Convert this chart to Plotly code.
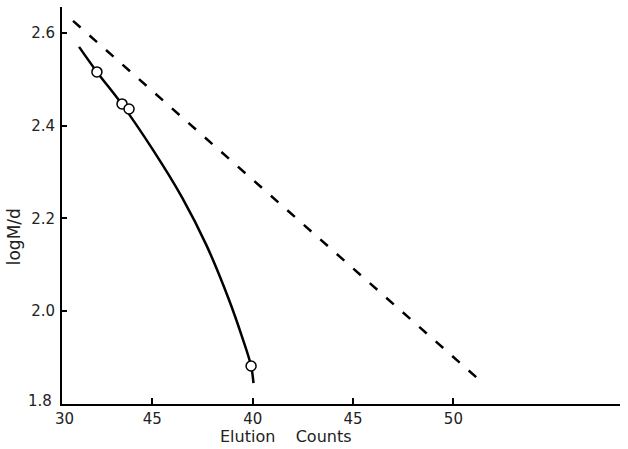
import plotly.graph_objects as go

# measured points (open circles)
point_x = [32.24, 33.49, 33.84, 39.92]
point_y = [2.516, 2.447, 2.436, 1.882]

# smooth fitted curve
curve_x = [31.35, 32.24, 33.49, 35.0, 36.5, 37.7, 38.8, 39.5, 39.92, 40.04]
curve_y = [2.570, 2.516, 2.446, 2.350, 2.244, 2.142, 2.027, 1.941, 1.882, 1.845]

# dashed reference line
dash_x = [31.05, 51.34]
dash_y = [2.626, 1.850]

x_tickvals = [35, 40, 45, 50]
x_ticktext = ["45", "40", "45", "50"]
y_tickvals = [1.8, 2.0, 2.2, 2.4, 2.6]
y_ticktext = ["", "2.0", "2.2", "2.4", "2.6"]

FONT = "DejaVu Sans"

fig = go.Figure()
fig.add_trace(go.Scatter(x=dash_x, y=dash_y, mode="lines",
                         line=dict(color="black", width=2.5, dash="10px,12px"),
                         showlegend=False))
fig.add_trace(go.Scatter(x=curve_x, y=curve_y, mode="lines",
                         line=dict(color="black", width=2.5, shape="spline", smoothing=1.0),
                         showlegend=False))
fig.add_trace(go.Scatter(x=point_x, y=point_y, mode="markers",
                         marker=dict(symbol="circle", size=10, color="white",
                                     line=dict(color="black", width=1.5)),
                         showlegend=False))

fig.update_layout(
    width=628, height=449,
    margin=dict(l=62, r=8, t=7, b=45),
    paper_bgcolor="white", plot_bgcolor="white",
    font=dict(family=FONT, size=14, color="#222"),
    xaxis=dict(range=[30.5, 58.3], showgrid=False, zeroline=False,
               showline=True, linecolor="black", linewidth=1.5,
               ticks="inside", ticklen=6, tickwidth=1.5, tickcolor="black",
               tickvals=x_tickvals, ticktext=x_ticktext,
               tickfont=dict(family=FONT, size=15, color="#222")),
    yaxis=dict(range=[1.8, 2.656], showgrid=False, zeroline=False,
               showline=True, linecolor="black", linewidth=2,
               ticks="inside", ticklen=5, tickwidth=1.5, tickcolor="black",
               tickvals=y_tickvals, ticktext=y_ticktext, ticklabelstandoff=2,
               tickfont=dict(family=FONT, size=15, color="#222")),
    annotations=[
        dict(text="1.8", x=0, y=0, xref="paper", yref="paper", showarrow=False,
             xanchor="right", yanchor="middle", xshift=-8, yshift=3,
             font=dict(family=FONT, size=15, color="#222")),
        dict(text="30", x=0, y=0, xref="paper", yref="paper", showarrow=False,
             xanchor="center", yanchor="top", xshift=2, yshift=-4,
             font=dict(family=FONT, size=15, color="#222")),
        dict(text="Elution&nbsp;&nbsp;&nbsp; Counts", x=0.401, y=0, xref="paper", yref="paper",
             showarrow=False, xanchor="center", yanchor="top", yshift=-21,
             font=dict(family=FONT, size=16, color="#222")),
        dict(text="logM/d", x=0, y=0.42, xref="paper", yref="paper", showarrow=False,
             textangle=-90, xanchor="center", yanchor="middle", xshift=-48,
             font=dict(family=FONT, size=17, color="#222")),
    ],
)

fig.write_html("out.html")
